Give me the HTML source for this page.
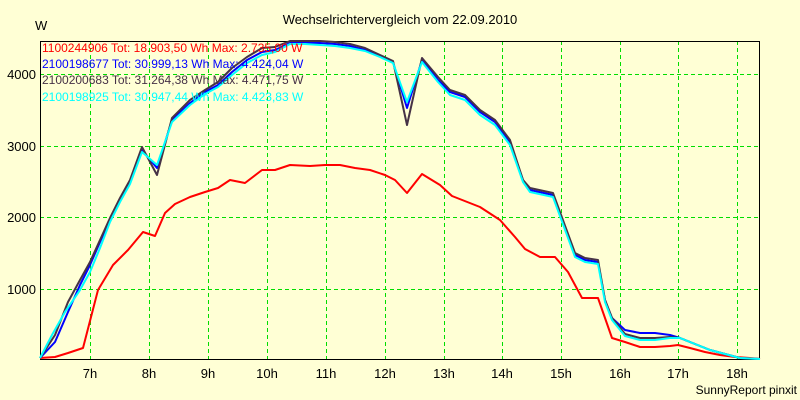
<!DOCTYPE html><html><head><style>body{margin:0;background:#ffffd5}svg{display:block}text{font-family:"Liberation Sans",sans-serif}</style></head><body>
<svg width="800" height="400" xmlns="http://www.w3.org/2000/svg">
<rect width="800" height="400" fill="#ffffd5"/>
<text x="400" y="24" font-size="13" text-anchor="middle">Wechselrichtervergleich vom 22.09.2010</text>
<text x="35" y="30" font-size="13">W</text>
<g stroke="#00dd00" stroke-dasharray="4,3" stroke-width="1">
<path d="M90.5 41V359M149.5 41V359M208.5 41V359M267.5 41V359M326.5 41V359M385.5 41V359M444.5 41V359M502.5 41V359M561.5 41V359M620.5 41V359M678.5 41V359M737.5 41V359"/>
<path d="M40 74.5H760M40 146.5H760M40 217.5H760M40 289.5H760"/>
</g>
<rect x="40.5" y="41.5" width="719" height="318" fill="none" stroke="#000"/>
<g font-size="13" text-anchor="end"><text x="36" y="79">4000</text><text x="36" y="151">3000</text><text x="36" y="222">2000</text><text x="36" y="294">1000</text></g>
<g font-size="13" text-anchor="middle"><text x="90" y="378">7h</text><text x="149" y="378">8h</text><text x="208" y="378">9h</text><text x="267" y="378">10h</text><text x="326" y="378">11h</text><text x="385" y="378">12h</text><text x="444" y="378">13h</text><text x="502" y="378">14h</text><text x="561" y="378">15h</text><text x="620" y="378">16h</text><text x="678" y="378">17h</text><text x="737" y="378">18h</text></g>
<text x="797" y="394" font-size="12" text-anchor="end">SunnyReport pinxit</text>
<g fill="none" stroke-width="2" stroke-linejoin="round">
<polyline stroke="#ff0000" points="40,358 55,357 68,353 83,348 98,290 113,265 128,250 143,232 155,236 165,213 175,204 190,197 205,192 218,188 230,180 245,183 262,170 275,170 290,165 310,166 325,165 340,165 355,168 370,170 385,175 395,180 407,193 422,174 440,185 452,196 480,207 500,220 515,237 525,249 540,257 555,257 568,272 582,298 598,298 612,338 625,342 640,347 655,347 670,346 678,345 690,348 705,352 720,355 735,357 750,358 760,359"/>
<polyline stroke="#0000ff" points="40,358 55,342 68,312 80,285 90,265 100,242 110,220 120,200 130,182 142,150 157,168 172,120 190,103 205,92 218,85 232,72 247,60 262,52 275,50 290,43 305,43 320,43 335,44 350,46 365,50 380,56 393,62 407,108 422,60 438,80 450,92 465,97 480,112 495,122 510,143 523,180 530,190 553,195 575,255 585,260 598,262 605,300 612,318 625,330 640,333 655,333 670,335 680,338 695,344 710,350 725,354 740,358 760,359"/>
<polyline stroke="#463246" points="40,358 55,335 68,302 80,280 90,262 100,240 110,218 120,198 130,180 142,147 157,175 172,118 190,100 205,90 218,82 232,68 247,57 262,48 275,47 290,41 305,41 320,41 335,42 350,44 365,48 380,55 393,61 407,125 422,58 438,77 450,90 465,95 480,110 495,120 510,140 523,180 530,188 553,193 575,253 585,258 598,260 605,300 612,318 625,334 640,338 655,338 670,337 680,338 695,344 710,350 725,354 740,358 760,359"/>
<polyline stroke="#00ffff" points="40,358 52,335 65,312 80,290 90,272 100,248 110,222 120,202 130,184 142,152 157,165 172,122 190,105 205,94 218,87 232,75 247,63 262,55 275,52 290,44 305,44 320,45 335,46 350,48 365,51 380,57 393,63 407,102 422,62 438,82 450,95 465,100 480,115 495,125 510,145 523,182 530,192 553,197 575,257 585,262 598,264 605,302 612,320 625,336 640,340 655,340 670,338 680,338 695,344 710,350 725,354 740,358 760,359"/>
</g>
<g font-size="12"><text x="42" y="52" fill="#ff0000">1100244906 Tot: 18.903,50 Wh Max: 2.735,00 W</text>
<text x="42" y="68" fill="#0000ff">2100198677 Tot: 30.999,13 Wh Max: 4.424,04 W</text>
<text x="42" y="84" fill="#463246">2100200683 Tot: 31.264,38 Wh Max: 4.471,75 W</text>
<text x="42" y="101" fill="#00ffff">2100198925 Tot: 30.947,44 Wh Max: 4.423,83 W</text></g>
</svg></body></html>
